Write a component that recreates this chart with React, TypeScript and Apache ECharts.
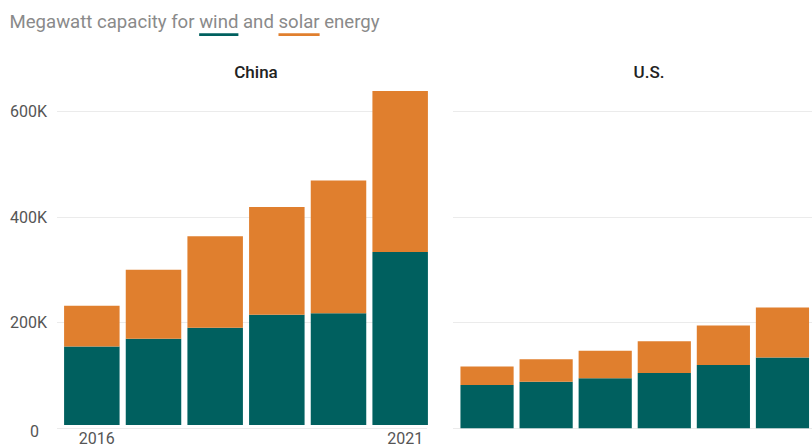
import React, { useEffect, useRef } from "react";
import * as echarts from "echarts";

const years = ["2016", "2017", "2018", "2019", "2020", "2021"];
// thousands of megawatts
const chinaWind = [150, 165, 186, 211, 214, 331];
const chinaSolar = [78, 132, 175, 206, 254, 308];
const usWind = [82, 88, 95, 105, 120, 134];
const usSolar = [35, 43, 52, 60, 75, 95];
const yMax = 640;
const yStep = 200;

const TEAL = "#00605F";
const ORANGE = "#E07F2E";
const TITLE = "Megawatt capacity for wind and solar energy";

function measure(s: string, font: string): number {
  const c = document.createElement("canvas").getContext("2d");
  if (!c) return s.length * 8;
  c.font = font;
  return c.measureText(s).width;
}

export default function App() {
  const ref = useRef<HTMLDivElement>(null);
  useEffect(() => {
    document.body.style.margin = "0";
    if (!ref.current) return;
    const chart = echarts.init(ref.current, null, { renderer: "svg" });
    const baseW = measure(TITLE, "17px Roboto");
    const titleSize = Math.round(((17 * 371) / baseW) * 10) / 10;
    const titleFont = titleSize + "px Roboto";
    const tx = 9.5;
    const windX = tx + measure("Megawatt capacity for ", titleFont);
    const windW = measure("wind", titleFont);
    const solarX = tx + measure("Megawatt capacity for wind and ", titleFont);
    const solarW = measure("solar", titleFont);

    const top = 90.5;
    const height = 337.8;
    const grids = [
      { left: 61, top, width: 370, height },
      { left: 457.5, top, width: 370, height },
      { left: 57, top, width: 370, height },
      { left: 453, top, width: 400, height },
    ];
    const yBase = (i: number, showSplit: boolean, showLabel: boolean) => ({
      type: "value",
      gridIndex: i,
      min: 0,
      max: yMax,
      interval: yStep,
      axisLine: { show: false },
      axisTick: { show: false },
      splitLine: {
        show: showSplit,
        showMaxLine: false,
        lineStyle: { color: "#EBEBEB", width: 1 },
      },
      axisLabel: {
        show: showLabel,
        showMaxLabel: false,
        margin: 10,
        color: "#555",
        fontFamily: "Roboto",
        fontSize: 16,
        formatter: (v: number) => (v === 0 ? "{z|0}" : v + "K"),
        rich: {
          z: {
            fontFamily: "Roboto",
            fontSize: 16,
            color: "#555",
            padding: [6, 8, 0, 0],
          },
        },
      },
    });
    const xBase = (i: number, showLabel: boolean) => ({
      type: "category",
      gridIndex: i,
      data: years,
      axisLine: { show: false },
      axisTick: { show: false },
      splitLine: { show: false },
      axisLabel: {
        show: showLabel,
        interval: (idx: number) => idx === 0 || idx === years.length - 1,
        margin: 5,
        color: "#555",
        fontFamily: "Roboto",
        fontSize: 16,
        padding: [0, 0, 0, 10],
      },
    });
    const bar = (name: string, data: number[], idx: number, stack: string, color: string) => ({
      type: "bar",
      name,
      data,
      xAxisIndex: idx,
      yAxisIndex: idx,
      stack,
      barCategoryGap: "10%",
      itemStyle: { color },
    });

    chart.setOption({
      animation: false,
      grid: grids,
      xAxis: [xBase(0, true), xBase(1, false), xBase(2, false), xBase(3, false)],
      yAxis: [yBase(0, false, false), yBase(1, false, false), yBase(2, true, true), yBase(3, true, false)],
      series: [
        bar("China wind", chinaWind, 0, "china", TEAL),
        bar("China solar", chinaSolar, 0, "china", ORANGE),
        bar("U.S. wind", usWind, 1, "us", TEAL),
        bar("U.S. solar", usSolar, 1, "us", ORANGE),
      ],
      graphic: [
        {
          type: "text",
          x: tx,
          y: 21.5,
          style: {
            text: TITLE,
            font: titleFont,
            fill: "#8A8A8A",
            align: "left",
            verticalAlign: "middle",
          },
        },
        { type: "rect", shape: { x: windX, y: 33.3, width: windW, height: 2.7 }, style: { fill: TEAL } },
        { type: "rect", shape: { x: solarX, y: 33.3, width: solarW, height: 2.7 }, style: { fill: ORANGE } },
        {
          type: "text",
          x: 256,
          y: 72,
          style: {
            text: "China",
            font: "500 17px Roboto",
            fill: "#222",
            align: "center",
            verticalAlign: "middle",
          },
        },
        {
          type: "text",
          x: 649,
          y: 72,
          style: {
            text: "U.S.",
            font: "500 17px Roboto",
            fill: "#222",
            align: "center",
            verticalAlign: "middle",
          },
        },
      ],
    });
    return () => chart.dispose();
  }, []);
  return <div ref={ref} style={{ width: 812, height: 446 }} />;
}
